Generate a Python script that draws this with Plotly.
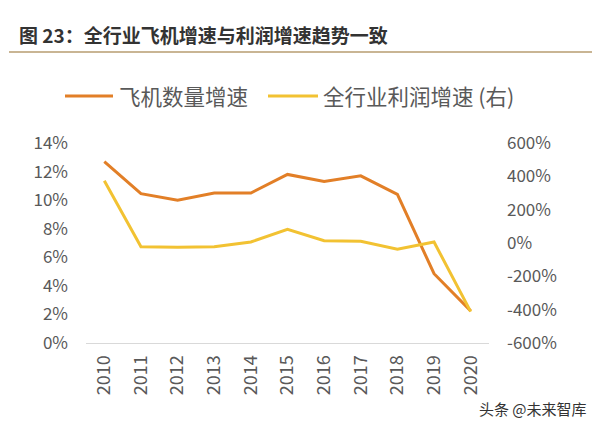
import plotly.graph_objects as go

years = ["2010", "2011", "2012", "2013", "2014", "2015", "2016", "2017", "2018", "2019", "2020"]
plane_growth = [12.7, 10.45, 10.0, 10.5, 10.5, 11.8, 11.3, 11.7, 10.4, 4.85, 2.25]  # %
profit_growth = [374, -22, -26, -22, 6, 82, 14, 10, -38, 6, -412]  # %

left_ticks = [0, 2, 4, 6, 8, 10, 12, 14]
right_ticks = [-600, -400, -200, 0, 200, 400, 600]

series_names = ["飞机数量增速", "全行业利润增速 (右)"]

ORANGE = "#E27F27"
YELLOW = "#F2C232"
FONT = "Noto Sans CJK SC"
TXT = "#595959"

# page offset of the figure (browser body margin)
OFF = 8
PL, PR, PT, PB = 86, 489, 143, 343  # plot area in page pixels


def px(x):
    return (x - PL) / (PR - PL)


def py(y):
    return (PB - y) / (PB - PT)


fig = go.Figure()
fig.add_trace(go.Scatter(x=years, y=plane_growth, name=series_names[0], mode="lines",
                         line=dict(color=ORANGE, width=3), yaxis="y", showlegend=False))
fig.add_trace(go.Scatter(x=years, y=profit_growth, name=series_names[1], mode="lines",
                         line=dict(color=YELLOW, width=3), yaxis="y2", showlegend=False))

W, H = 600 - OFF, 426 - OFF
fig.update_layout(
    width=W, height=H,
    margin=dict(l=PL - OFF, r=W - (PR - OFF), t=PT - OFF, b=H - (PB - OFF)),
    paper_bgcolor="white", plot_bgcolor="white",
    font=dict(family=FONT, color=TXT, size=16),
    showlegend=False,
    xaxis=dict(type="category", range=[-0.5, 10.5], tickangle=-90, showgrid=False, showline=True,
               linecolor="#D9D9D9", linewidth=1, ticks="", tickfont=dict(size=18, color=TXT),
               zeroline=False, ticklabelstandoff=4),
    yaxis=dict(range=[0, 14], tickvals=left_ticks, ticktext=[f"{v}%" for v in left_ticks],
               showgrid=False, zeroline=False, showline=False, ticks="",
               tickfont=dict(size=17, color=TXT), ticklabelstandoff=17),
    yaxis2=dict(range=[-600, 600], tickvals=right_ticks, ticktext=[f"{v}%" for v in right_ticks],
                overlaying="y", side="right", showgrid=False, zeroline=False, showline=False,
                ticks="", tickfont=dict(size=17, color=TXT), ticklabelstandoff=17),
)

# title and underline
fig.add_annotation(text="<b>图 23：全行业飞机增速与利润增速趋势一致</b>", xref="paper", yref="paper",
                   x=px(17), y=py(34), xanchor="left", yanchor="middle",
                   showarrow=False, font=dict(size=19, color="#333333", family=FONT))
fig.add_shape(type="line", xref="paper", yref="paper", x0=px(9), x1=px(596),
              y0=py(52), y1=py(52), line=dict(color="#C9B594", width=2))

# legend (drawn manually for exact placement)
legend_items = [(series_names[0], ORANGE, 65, 113, 117), (series_names[1], YELLOW, 268, 318, 321)]
for name, color, lx0, lx1, tx in legend_items:
    fig.add_shape(type="line", xref="paper", yref="paper", x0=px(lx0), x1=px(lx1),
                  y0=py(96), y1=py(96), line=dict(color=color, width=3))
    fig.add_annotation(text=name, xref="paper", yref="paper", x=px(tx), y=py(95),
                       xanchor="left", yanchor="middle", showarrow=False,
                       font=dict(size=21.5, color=TXT, family=FONT))

# watermark
fig.add_annotation(text="头条 @未来智库", xref="paper", yref="paper",
                   x=px(589), y=py(408), xanchor="right", yanchor="middle",
                   showarrow=False, font=dict(size=15, color="#333333", family=FONT))

fig.write_html("out.html")
